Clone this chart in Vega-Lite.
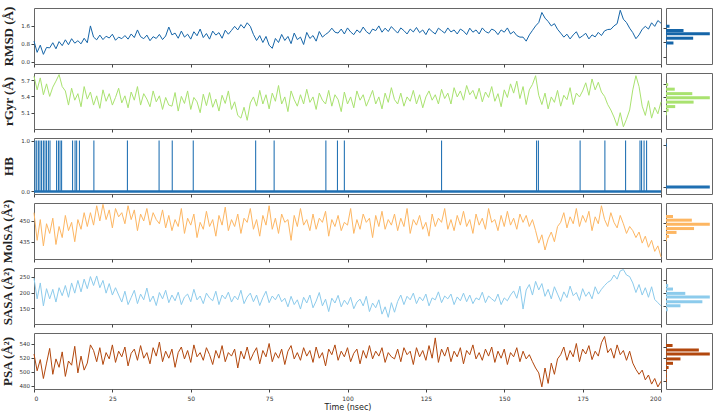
{
 "$schema": "https://vega.github.io/schema/vega-lite/v6.json",
 "padding": {"left": 0, "top": 5, "right": 5, "bottom": 2},
 "background": "white",
 "columns": 2,
 "spacing": {"row": 9, "column": 5},
 "bounds": "flush",
 "datasets": {
  "ts": [
{"t":0,"rmsd":0.92,"rgyr":5.77,"molsa":456,"sasa":245,"psa":525},
{"t":1,"rmsd":0.42,"rgyr":5.52,"molsa":436,"sasa":180,"psa":501},
{"t":2,"rmsd":0.74,"rgyr":5.74,"molsa":451,"sasa":230,"psa":517},
{"t":3,"rmsd":0.33,"rgyr":5.43,"molsa":432,"sasa":158,"psa":490},
{"t":4,"rmsd":0.64,"rgyr":5.63,"molsa":448,"sasa":212,"psa":512},
{"t":5,"rmsd":0.62,"rgyr":5.4,"molsa":441,"sasa":180,"psa":533},
{"t":6,"rmsd":0.85,"rgyr":5.57,"molsa":452,"sasa":210,"psa":496},
{"t":7,"rmsd":0.58,"rgyr":5.68,"molsa":433,"sasa":170,"psa":518},
{"t":8,"rmsd":0.9,"rgyr":5.8,"molsa":446,"sasa":215,"psa":506},
{"t":9,"rmsd":0.72,"rgyr":5.58,"molsa":438,"sasa":190,"psa":528},
{"t":10,"rmsd":0.98,"rgyr":5.5,"molsa":454,"sasa":222,"psa":493},
{"t":11,"rmsd":0.76,"rgyr":5.24,"molsa":443,"sasa":185,"psa":515},
{"t":12,"rmsd":1.03,"rgyr":5.55,"molsa":449,"sasa":230,"psa":509},
{"t":13,"rmsd":0.83,"rgyr":5.33,"molsa":435,"sasa":198,"psa":536},
{"t":14,"rmsd":0.94,"rgyr":5.45,"molsa":451,"sasa":238,"psa":498},
{"t":15,"rmsd":0.8,"rgyr":5.21,"molsa":444,"sasa":202,"psa":522},
{"t":16,"rmsd":1.05,"rgyr":5.58,"molsa":456,"sasa":242,"psa":502},
{"t":17,"rmsd":0.85,"rgyr":5.35,"molsa":446,"sasa":212,"psa":512},
{"t":18,"rmsd":1.6,"rgyr":5.48,"molsa":456,"sasa":250,"psa":538},
{"t":19,"rmsd":1.1,"rgyr":5.24,"molsa":447,"sasa":222,"psa":530},
{"t":20,"rmsd":0.98,"rgyr":5.41,"molsa":461,"sasa":252,"psa":514},
{"t":21,"rmsd":1.19,"rgyr":5.18,"molsa":450,"sasa":215,"psa":534},
{"t":22,"rmsd":0.99,"rgyr":5.52,"molsa":462,"sasa":238,"psa":510},
{"t":23,"rmsd":1.14,"rgyr":5.31,"molsa":451,"sasa":198,"psa":527},
{"t":24,"rmsd":1.06,"rgyr":5.45,"molsa":458,"sasa":228,"psa":518},
{"t":25,"rmsd":1.23,"rgyr":5.24,"molsa":445,"sasa":192,"psa":538},
{"t":26,"rmsd":0.96,"rgyr":5.38,"molsa":459,"sasa":215,"psa":513},
{"t":27,"rmsd":1.1,"rgyr":5.55,"molsa":453,"sasa":192,"psa":529},
{"t":28,"rmsd":1.03,"rgyr":5.28,"molsa":456,"sasa":170,"psa":521},
{"t":29,"rmsd":1.17,"rgyr":5.41,"molsa":448,"sasa":204,"psa":535},
{"t":30,"rmsd":1.01,"rgyr":5.19,"molsa":461,"sasa":162,"psa":508},
{"t":31,"rmsd":1.24,"rgyr":5.48,"molsa":451,"sasa":184,"psa":526},
{"t":32,"rmsd":1.08,"rgyr":5.33,"molsa":458,"sasa":207,"psa":532},
{"t":33,"rmsd":1.42,"rgyr":5.58,"molsa":443,"sasa":165,"psa":516},
{"t":34,"rmsd":1.12,"rgyr":5.24,"molsa":455,"sasa":195,"psa":537},
{"t":35,"rmsd":1.03,"rgyr":5.45,"molsa":450,"sasa":177,"psa":519},
{"t":36,"rmsd":1.19,"rgyr":5.35,"molsa":459,"sasa":214,"psa":527},
{"t":37,"rmsd":0.94,"rgyr":5.21,"molsa":447,"sasa":171,"psa":511},
{"t":38,"rmsd":1.12,"rgyr":5.5,"molsa":456,"sasa":189,"psa":534},
{"t":39,"rmsd":1.04,"rgyr":5.3,"molsa":451,"sasa":159,"psa":522},
{"t":40,"rmsd":1.22,"rgyr":5.41,"molsa":448,"sasa":200,"psa":542},
{"t":41,"rmsd":0.99,"rgyr":5.16,"molsa":458,"sasa":180,"psa":514},
{"t":42,"rmsd":1.15,"rgyr":5.38,"molsa":445,"sasa":207,"psa":529},
{"t":43,"rmsd":1.55,"rgyr":5.24,"molsa":454,"sasa":168,"psa":519},
{"t":44,"rmsd":1.2,"rgyr":5.22,"molsa":443,"sasa":192,"psa":532},
{"t":45,"rmsd":1.28,"rgyr":5.47,"molsa":451,"sasa":174,"psa":506},
{"t":46,"rmsd":1.05,"rgyr":5.13,"molsa":446,"sasa":201,"psa":527},
{"t":47,"rmsd":1.37,"rgyr":5.4,"molsa":459,"sasa":162,"psa":535},
{"t":48,"rmsd":1.1,"rgyr":5.27,"molsa":441,"sasa":186,"psa":518},
{"t":49,"rmsd":1.23,"rgyr":5.5,"molsa":452,"sasa":195,"psa":530},
{"t":50,"rmsd":1.01,"rgyr":5.16,"molsa":447,"sasa":171,"psa":513},
{"t":51,"rmsd":1.34,"rgyr":5.38,"molsa":455,"sasa":210,"psa":538},
{"t":52,"rmsd":1.16,"rgyr":5.3,"molsa":438,"sasa":177,"psa":521},
{"t":53,"rmsd":1.46,"rgyr":5.1,"molsa":449,"sasa":189,"psa":527},
{"t":54,"rmsd":1.08,"rgyr":5.44,"molsa":444,"sasa":165,"psa":516},
{"t":55,"rmsd":1.26,"rgyr":5.23,"molsa":457,"sasa":198,"psa":534},
{"t":56,"rmsd":1.01,"rgyr":5.47,"molsa":446,"sasa":183,"psa":524},
{"t":57,"rmsd":1.37,"rgyr":5.2,"molsa":451,"sasa":174,"psa":510},
{"t":58,"rmsd":1.19,"rgyr":5.35,"molsa":439,"sasa":204,"psa":530},
{"t":59,"rmsd":1.3,"rgyr":5.13,"molsa":454,"sasa":162,"psa":519},
{"t":60,"rmsd":1.05,"rgyr":5.42,"molsa":447,"sasa":192,"psa":537},
{"t":61,"rmsd":1.41,"rgyr":5.27,"molsa":460,"sasa":180,"psa":514},
{"t":62,"rmsd":1.23,"rgyr":5.5,"molsa":443,"sasa":201,"psa":527},
{"t":63,"rmsd":1.4,"rgyr":5.16,"molsa":451,"sasa":170,"psa":522},
{"t":64,"rmsd":1.58,"rgyr":5.3,"molsa":446,"sasa":189,"psa":532},
{"t":65,"rmsd":1.42,"rgyr":5.05,"molsa":455,"sasa":177,"psa":505},
{"t":66,"rmsd":1.66,"rgyr":5.0,"molsa":441,"sasa":207,"psa":529},
{"t":67,"rmsd":1.5,"rgyr":5.2,"molsa":452,"sasa":165,"psa":518},
{"t":68,"rmsd":1.74,"rgyr":4.96,"molsa":449,"sasa":186,"psa":535},
{"t":69,"rmsd":1.58,"rgyr":5.28,"molsa":459,"sasa":198,"psa":516},
{"t":70,"rmsd":1.22,"rgyr":5.39,"molsa":444,"sasa":171,"psa":526},
{"t":71,"rmsd":0.95,"rgyr":5.22,"molsa":451,"sasa":192,"psa":534},
{"t":72,"rmsd":1.17,"rgyr":5.51,"molsa":439,"sasa":159,"psa":511},
{"t":73,"rmsd":0.86,"rgyr":5.26,"molsa":454,"sasa":184,"psa":530},
{"t":74,"rmsd":1.13,"rgyr":5.43,"molsa":447,"sasa":204,"psa":521},
{"t":75,"rmsd":0.74,"rgyr":5.17,"molsa":461,"sasa":168,"psa":540},
{"t":76,"rmsd":0.6,"rgyr":5.46,"molsa":444,"sasa":189,"psa":514},
{"t":77,"rmsd":1.04,"rgyr":5.31,"molsa":452,"sasa":177,"psa":527},
{"t":78,"rmsd":0.86,"rgyr":5.6,"molsa":441,"sasa":195,"psa":519},
{"t":79,"rmsd":1.22,"rgyr":5.26,"molsa":455,"sasa":171,"psa":532},
{"t":80,"rmsd":0.95,"rgyr":5.39,"molsa":449,"sasa":182,"psa":510},
{"t":81,"rmsd":1.13,"rgyr":5.12,"molsa":451,"sasa":155,"psa":529},
{"t":82,"rmsd":0.81,"rgyr":5.5,"molsa":436,"sasa":188,"psa":537},
{"t":83,"rmsd":1.28,"rgyr":5.34,"molsa":454,"sasa":162,"psa":518},
{"t":84,"rmsd":0.99,"rgyr":5.22,"molsa":446,"sasa":177,"psa":527},
{"t":85,"rmsd":1.1,"rgyr":5.43,"molsa":459,"sasa":148,"psa":516},
{"t":86,"rmsd":0.77,"rgyr":5.26,"molsa":447,"sasa":185,"psa":534},
{"t":87,"rmsd":1.31,"rgyr":5.53,"molsa":451,"sasa":167,"psa":522},
{"t":88,"rmsd":1.04,"rgyr":5.29,"molsa":443,"sasa":192,"psa":530},
{"t":89,"rmsd":1.17,"rgyr":5.39,"molsa":455,"sasa":152,"psa":513},
{"t":90,"rmsd":0.92,"rgyr":5.16,"molsa":444,"sasa":173,"psa":535},
{"t":91,"rmsd":1.35,"rgyr":5.46,"molsa":452,"sasa":200,"psa":519},
{"t":92,"rmsd":1.1,"rgyr":5.33,"molsa":449,"sasa":158,"psa":527},
{"t":93,"rmsd":1.22,"rgyr":5.26,"molsa":457,"sasa":179,"psa":508},
{"t":94,"rmsd":1.32,"rgyr":5.51,"molsa":439,"sasa":140,"psa":532},
{"t":95,"rmsd":1.5,"rgyr":5.22,"molsa":451,"sasa":182,"psa":524},
{"t":96,"rmsd":1.32,"rgyr":5.43,"molsa":446,"sasa":167,"psa":538},
{"t":97,"rmsd":1.28,"rgyr":5.34,"molsa":454,"sasa":191,"psa":516},
{"t":98,"rmsd":1.46,"rgyr":5.12,"molsa":443,"sasa":155,"psa":529},
{"t":99,"rmsd":1.24,"rgyr":5.48,"molsa":449,"sasa":176,"psa":521},
{"t":100,"rmsd":1.51,"rgyr":5.26,"molsa":447,"sasa":162,"psa":534},
{"t":101,"rmsd":1.33,"rgyr":5.39,"molsa":459,"sasa":185,"psa":514},
{"t":102,"rmsd":1.21,"rgyr":5.19,"molsa":441,"sasa":149,"psa":526},
{"t":103,"rmsd":1.42,"rgyr":5.5,"molsa":451,"sasa":170,"psa":532},
{"t":104,"rmsd":1.3,"rgyr":5.33,"molsa":444,"sasa":179,"psa":511},
{"t":105,"rmsd":1.55,"rgyr":5.43,"molsa":455,"sasa":158,"psa":530},
{"t":106,"rmsd":1.35,"rgyr":5.22,"molsa":449,"sasa":188,"psa":519},
{"t":107,"rmsd":1.24,"rgyr":5.36,"molsa":452,"sasa":140,"psa":537},
{"t":108,"rmsd":1.46,"rgyr":5.51,"molsa":438,"sasa":167,"psa":518},
{"t":109,"rmsd":1.39,"rgyr":5.26,"molsa":454,"sasa":152,"psa":529},
{"t":110,"rmsd":1.6,"rgyr":5.39,"molsa":446,"sasa":177,"psa":522},
{"t":111,"rmsd":1.32,"rgyr":5.17,"molsa":457,"sasa":132,"psa":534},
{"t":112,"rmsd":1.5,"rgyr":5.46,"molsa":444,"sasa":155,"psa":513},
{"t":113,"rmsd":1.35,"rgyr":5.29,"molsa":451,"sasa":122,"psa":527},
{"t":114,"rmsd":1.57,"rgyr":5.56,"molsa":447,"sasa":168,"psa":521},
{"t":115,"rmsd":1.42,"rgyr":5.34,"molsa":455,"sasa":138,"psa":518},
{"t":116,"rmsd":1.28,"rgyr":5.26,"molsa":443,"sasa":172,"psa":532},
{"t":117,"rmsd":1.51,"rgyr":5.46,"molsa":452,"sasa":192,"psa":514},
{"t":118,"rmsd":1.39,"rgyr":5.22,"molsa":446,"sasa":162,"psa":534},
{"t":119,"rmsd":1.24,"rgyr":5.39,"molsa":459,"sasa":188,"psa":524},
{"t":120,"rmsd":1.46,"rgyr":5.31,"molsa":441,"sasa":177,"psa":529},
{"t":121,"rmsd":1.33,"rgyr":5.51,"molsa":451,"sasa":198,"psa":510},
{"t":122,"rmsd":1.53,"rgyr":5.26,"molsa":447,"sasa":165,"psa":534},
{"t":123,"rmsd":1.3,"rgyr":5.43,"molsa":454,"sasa":186,"psa":521},
{"t":124,"rmsd":1.42,"rgyr":5.19,"molsa":444,"sasa":174,"psa":530},
{"t":125,"rmsd":1.21,"rgyr":5.39,"molsa":449,"sasa":195,"psa":516},
{"t":126,"rmsd":1.48,"rgyr":5.5,"molsa":439,"sasa":158,"psa":537},
{"t":127,"rmsd":1.35,"rgyr":5.33,"molsa":455,"sasa":183,"psa":519},
{"t":128,"rmsd":1.24,"rgyr":5.43,"molsa":446,"sasa":177,"psa":548},
{"t":129,"rmsd":1.5,"rgyr":5.26,"molsa":452,"sasa":202,"psa":513},
{"t":130,"rmsd":1.39,"rgyr":5.53,"molsa":449,"sasa":168,"psa":532},
{"t":131,"rmsd":1.28,"rgyr":5.36,"molsa":459,"sasa":189,"psa":522},
{"t":132,"rmsd":1.51,"rgyr":5.46,"molsa":444,"sasa":180,"psa":535},
{"t":133,"rmsd":1.33,"rgyr":5.26,"molsa":451,"sasa":195,"psa":514},
{"t":134,"rmsd":1.42,"rgyr":5.56,"molsa":443,"sasa":162,"psa":529},
{"t":135,"rmsd":1.24,"rgyr":5.39,"molsa":454,"sasa":186,"psa":521},
{"t":136,"rmsd":1.46,"rgyr":5.5,"molsa":447,"sasa":174,"psa":534},
{"t":137,"rmsd":1.37,"rgyr":5.33,"molsa":457,"sasa":198,"psa":511},
{"t":138,"rmsd":1.21,"rgyr":5.6,"molsa":446,"sasa":171,"psa":530},
{"t":139,"rmsd":1.5,"rgyr":5.43,"molsa":451,"sasa":192,"psa":524},
{"t":140,"rmsd":1.32,"rgyr":5.51,"molsa":441,"sasa":165,"psa":538},
{"t":141,"rmsd":1.42,"rgyr":5.35,"molsa":455,"sasa":183,"psa":518},
{"t":142,"rmsd":1.24,"rgyr":5.55,"molsa":447,"sasa":177,"psa":527},
{"t":143,"rmsd":1.51,"rgyr":5.3,"molsa":452,"sasa":201,"psa":516},
{"t":144,"rmsd":1.35,"rgyr":5.48,"molsa":444,"sasa":168,"psa":532},
{"t":145,"rmsd":1.28,"rgyr":5.38,"molsa":459,"sasa":189,"psa":522},
{"t":146,"rmsd":1.46,"rgyr":5.58,"molsa":449,"sasa":180,"psa":535},
{"t":147,"rmsd":1.39,"rgyr":5.31,"molsa":451,"sasa":172,"psa":513},
{"t":148,"rmsd":1.21,"rgyr":5.45,"molsa":443,"sasa":195,"psa":529},
{"t":149,"rmsd":1.42,"rgyr":5.21,"molsa":454,"sasa":162,"psa":519},
{"t":150,"rmsd":1.32,"rgyr":5.52,"molsa":446,"sasa":183,"psa":532},
{"t":151,"rmsd":1.51,"rgyr":5.38,"molsa":457,"sasa":174,"psa":510},
{"t":152,"rmsd":1.24,"rgyr":5.63,"molsa":447,"sasa":192,"psa":527},
{"t":153,"rmsd":1.35,"rgyr":5.46,"molsa":452,"sasa":205,"psa":521},
{"t":154,"rmsd":1.17,"rgyr":5.68,"molsa":444,"sasa":182,"psa":534},
{"t":155,"rmsd":1.1,"rgyr":5.36,"molsa":455,"sasa":220,"psa":514},
{"t":156,"rmsd":1.1,"rgyr":5.58,"molsa":449,"sasa":148,"psa":529},
{"t":157,"rmsd":0.92,"rgyr":5.25,"molsa":454,"sasa":208,"psa":518},
{"t":158,"rmsd":1.2,"rgyr":5.52,"molsa":446,"sasa":225,"psa":524},
{"t":159,"rmsd":1.4,"rgyr":5.62,"molsa":451,"sasa":192,"psa":514},
{"t":160,"rmsd":1.6,"rgyr":5.78,"molsa":443,"sasa":235,"psa":505},
{"t":161,"rmsd":1.75,"rgyr":5.42,"molsa":434,"sasa":208,"psa":498},
{"t":162,"rmsd":2.2,"rgyr":5.25,"molsa":440,"sasa":228,"psa":478},
{"t":163,"rmsd":1.95,"rgyr":5.46,"molsa":429,"sasa":188,"psa":505},
{"t":164,"rmsd":1.8,"rgyr":5.17,"molsa":437,"sasa":210,"psa":483},
{"t":165,"rmsd":1.6,"rgyr":5.39,"molsa":442,"sasa":180,"psa":512},
{"t":166,"rmsd":1.7,"rgyr":5.29,"molsa":435,"sasa":218,"psa":496},
{"t":167,"rmsd":1.45,"rgyr":5.51,"molsa":446,"sasa":195,"psa":518},
{"t":168,"rmsd":1.28,"rgyr":5.22,"molsa":449,"sasa":172,"psa":524},
{"t":169,"rmsd":1.1,"rgyr":5.42,"molsa":456,"sasa":202,"psa":535},
{"t":170,"rmsd":1.23,"rgyr":5.34,"molsa":445,"sasa":184,"psa":516},
{"t":171,"rmsd":1.02,"rgyr":5.56,"molsa":453,"sasa":220,"psa":530},
{"t":172,"rmsd":1.2,"rgyr":5.25,"molsa":448,"sasa":190,"psa":521},
{"t":173,"rmsd":1.34,"rgyr":5.46,"molsa":459,"sasa":200,"psa":540},
{"t":174,"rmsd":1.06,"rgyr":5.39,"molsa":446,"sasa":175,"psa":514},
{"t":175,"rmsd":1.16,"rgyr":5.5,"molsa":454,"sasa":212,"psa":532},
{"t":176,"rmsd":1.27,"rgyr":5.65,"molsa":449,"sasa":188,"psa":525},
{"t":177,"rmsd":1.02,"rgyr":5.42,"molsa":457,"sasa":202,"psa":537},
{"t":178,"rmsd":1.2,"rgyr":5.72,"molsa":443,"sasa":180,"psa":517},
{"t":179,"rmsd":1.11,"rgyr":5.52,"molsa":453,"sasa":218,"psa":529},
{"t":180,"rmsd":1.31,"rgyr":5.66,"molsa":448,"sasa":195,"psa":522},
{"t":181,"rmsd":1.17,"rgyr":5.48,"molsa":461,"sasa":210,"psa":541},
{"t":182,"rmsd":1.38,"rgyr":5.4,"molsa":451,"sasa":222,"psa":550},
{"t":183,"rmsd":1.44,"rgyr":5.25,"molsa":446,"sasa":232,"psa":527},
{"t":184,"rmsd":1.45,"rgyr":5.15,"molsa":456,"sasa":238,"psa":533},
{"t":185,"rmsd":1.6,"rgyr":5.02,"molsa":449,"sasa":255,"psa":519},
{"t":186,"rmsd":1.7,"rgyr":4.86,"molsa":445,"sasa":242,"psa":538},
{"t":187,"rmsd":2.3,"rgyr":5.1,"molsa":454,"sasa":268,"psa":524},
{"t":188,"rmsd":1.9,"rgyr":4.84,"molsa":448,"sasa":272,"psa":530},
{"t":189,"rmsd":1.75,"rgyr":4.98,"molsa":441,"sasa":255,"psa":516},
{"t":190,"rmsd":1.5,"rgyr":5.15,"molsa":446,"sasa":250,"psa":529},
{"t":191,"rmsd":1.3,"rgyr":5.52,"molsa":443,"sasa":230,"psa":512},
{"t":192,"rmsd":1.03,"rgyr":5.78,"molsa":438,"sasa":200,"psa":503},
{"t":193,"rmsd":1.2,"rgyr":5.58,"molsa":442,"sasa":225,"psa":496},
{"t":194,"rmsd":1.45,"rgyr":5.22,"molsa":434,"sasa":192,"psa":502},
{"t":195,"rmsd":1.58,"rgyr":5.05,"molsa":439,"sasa":215,"psa":488},
{"t":196,"rmsd":1.46,"rgyr":5.32,"molsa":431,"sasa":185,"psa":495},
{"t":197,"rmsd":1.74,"rgyr":5.0,"molsa":436,"sasa":218,"psa":482},
{"t":198,"rmsd":1.58,"rgyr":5.2,"molsa":428,"sasa":178,"psa":490},
{"t":199,"rmsd":1.84,"rgyr":5.08,"molsa":432,"sasa":168,"psa":478},
{"t":200,"rmsd":1.72,"rgyr":5.3,"molsa":424,"sasa":158,"psa":486}
  ],
  "hbspikes": [
{"t":0.3},{"t":0.85},{"t":1.4},{"t":1.9},{"t":2.4},{"t":3.0},{"t":3.5},{"t":4.0},{"t":4.6},{"t":5.1},
{"t":7.2},{"t":7.8},{"t":8.3},{"t":8.8},{"t":12.3},{"t":13.1},{"t":13.6},{"t":14.5},{"t":19.1},{"t":29.8},
{"t":39.9},{"t":44.1},{"t":50.8},{"t":70.7},{"t":76.6},{"t":93.1},{"t":96.8},{"t":99.0},{"t":130.0},{"t":160.3},
{"t":160.9},{"t":174.2},{"t":182.1},{"t":188.7},{"t":193.3},{"t":193.8},{"t":194.6},{"t":195.4}
  ],
  "hist": [
{"m":"rmsd","v":1.68,"n":8},{"m":"rmsd","v":1.45,"n":40},{"m":"rmsd","v":1.27,"n":100},{"m":"rmsd","v":1.03,"n":62},{"m":"rmsd","v":0.77,"n":17},{"m":"rmsd","v":0.59,"n":2},
{"m":"rgyr","v":5.68,"n":5},{"m":"rgyr","v":5.58,"n":20},{"m":"rgyr","v":5.48,"n":60},{"m":"rgyr","v":5.39,"n":100},{"m":"rgyr","v":5.29,"n":63},{"m":"rgyr","v":5.19,"n":21},{"m":"rgyr","v":5.11,"n":6},{"m":"rgyr","v":5.03,"n":2},
{"m":"hb","v":0,"n":100},{"m":"hb","v":1,"n":2},
{"m":"molsa","v":455.5,"n":16},{"m":"molsa","v":452.3,"n":59},{"m":"molsa","v":448.8,"n":100},{"m":"molsa","v":444.9,"n":64},{"m":"molsa","v":441.5,"n":24},{"m":"molsa","v":438,"n":7},{"m":"molsa","v":435,"n":2},
{"m":"sasa","v":229,"n":5},{"m":"sasa","v":215.6,"n":16},{"m":"sasa","v":199,"n":44},{"m":"sasa","v":185,"n":100},{"m":"sasa","v":167,"n":83},{"m":"sasa","v":151.6,"n":33},{"m":"sasa","v":136,"n":4},
{"m":"psa","v":542,"n":15},{"m":"psa","v":534,"n":75},{"m":"psa","v":527,"n":100},{"m":"psa","v":518.6,"n":33},{"m":"psa","v":511,"n":16},{"m":"psa","v":503.7,"n":6},{"m":"psa","v":497,"n":2},{"m":"psa","v":489,"n":2},{"m":"psa","v":481,"n":2}
  ]
 },
 "concat": [
  {"width": 627, "height": 56, "data": {"name": "ts"},
   "mark": {"type": "line", "color": "#1565a8", "strokeWidth": 1},
   "encoding": {
    "x": {"field": "t", "type": "quantitative", "scale": {"domain": [0, 200], "nice": false}, "axis": {"values": [0,25,50,75,100,125,150,175,200], "labels": false, "title": null}},
    "y": {"field": "rmsd", "type": "quantitative", "scale": {"domain": [-0.1, 2.4], "nice": false, "zero": false}, "axis": {"values": [0, 0.8, 1.6], "format": ".1f", "title": "RMSD (Å)"}}}},
  {"width": 46, "height": 56, "data": {"name": "hist"}, "transform": [{"filter": "datum.m == 'rmsd'"}],
   "mark": {"type": "bar", "orient": "horizontal", "size": 3, "color": "#1565a8"},
   "encoding": {
    "x": {"field": "n", "type": "quantitative", "scale": {"domain": [0, 105], "nice": false}, "axis": null},
    "y": {"field": "v", "type": "quantitative", "scale": {"domain": [-0.1, 2.4], "nice": false, "zero": false}, "axis": {"values": [0, 0.8, 1.6], "labels": false, "title": null}}}},

  {"width": 627, "height": 56, "data": {"name": "ts"},
   "mark": {"type": "line", "color": "#a9e26f", "strokeWidth": 1},
   "encoding": {
    "x": {"field": "t", "type": "quantitative", "scale": {"domain": [0, 200], "nice": false}, "axis": {"values": [0,25,50,75,100,125,150,175,200], "labels": false, "title": null}},
    "y": {"field": "rgyr", "type": "quantitative", "scale": {"domain": [4.8, 5.83], "nice": false, "zero": false}, "axis": {"values": [5.1, 5.4, 5.7], "format": ".1f", "title": "rGyr (Å)"}}}},
  {"width": 46, "height": 56, "data": {"name": "hist"}, "transform": [{"filter": "datum.m == 'rgyr'"}],
   "mark": {"type": "bar", "orient": "horizontal", "size": 3, "color": "#a9e26f"},
   "encoding": {
    "x": {"field": "n", "type": "quantitative", "scale": {"domain": [0, 105], "nice": false}, "axis": null},
    "y": {"field": "v", "type": "quantitative", "scale": {"domain": [4.8, 5.83], "nice": false, "zero": false}, "axis": {"values": [5.1, 5.4, 5.7], "labels": false, "title": null}}}},

  {"width": 627, "height": 56,
   "layer": [
    {"data": {"name": "ts"},
     "mark": {"type": "rule", "color": "#1f6fb2", "strokeWidth": 2.5},
     "encoding": {
      "x": {"aggregate": "min", "field": "t", "type": "quantitative", "scale": {"domain": [0, 200], "nice": false}, "axis": {"values": [0,25,50,75,100,125,150,175,200], "labels": false, "title": null}},
      "x2": {"aggregate": "max", "field": "t"},
      "y": {"datum": 0, "type": "quantitative", "scale": {"domain": [-0.05, 1.05], "nice": false, "zero": false}, "axis": {"values": [0, 1], "title": "HB"}}}},
    {"data": {"name": "hbspikes"},
     "mark": {"type": "rule", "color": "#2674b5", "strokeWidth": 1.1},
     "encoding": {
      "x": {"field": "t", "type": "quantitative"},
      "y": {"datum": 0, "type": "quantitative"},
      "y2": {"datum": 1}}}
   ]},
  {"width": 46, "height": 56, "data": {"name": "hist"}, "transform": [{"filter": "datum.m == 'hb'"}],
   "mark": {"type": "bar", "orient": "horizontal", "size": 3, "color": "#1f6fb2"},
   "encoding": {
    "x": {"field": "n", "type": "quantitative", "scale": {"domain": [0, 105], "nice": false}, "axis": null},
    "y": {"field": "v", "type": "quantitative", "scale": {"domain": [-0.05, 1.05], "nice": false, "zero": false}, "axis": {"values": [0, 1], "labels": false, "title": null}}}},

  {"width": 627, "height": 56, "data": {"name": "ts"},
   "mark": {"type": "line", "color": "#fdb662", "strokeWidth": 1},
   "encoding": {
    "x": {"field": "t", "type": "quantitative", "scale": {"domain": [0, 200], "nice": false}, "axis": {"values": [0,25,50,75,100,125,150,175,200], "labels": false, "title": null}},
    "y": {"field": "molsa", "type": "quantitative", "scale": {"domain": [422.5, 463], "nice": false, "zero": false}, "axis": {"values": [435, 450], "title": "MolSA (Å²)"}}}},
  {"width": 46, "height": 56, "data": {"name": "hist"}, "transform": [{"filter": "datum.m == 'molsa'"}],
   "mark": {"type": "bar", "orient": "horizontal", "size": 3, "color": "#fdb662"},
   "encoding": {
    "x": {"field": "n", "type": "quantitative", "scale": {"domain": [0, 105], "nice": false}, "axis": null},
    "y": {"field": "v", "type": "quantitative", "scale": {"domain": [422.5, 463], "nice": false, "zero": false}, "axis": {"values": [435, 450], "labels": false, "title": null}}}},

  {"width": 627, "height": 56, "data": {"name": "ts"},
   "mark": {"type": "line", "color": "#8ccbec", "strokeWidth": 1},
   "encoding": {
    "x": {"field": "t", "type": "quantitative", "scale": {"domain": [0, 200], "nice": false}, "axis": {"values": [0,25,50,75,100,125,150,175,200], "labels": false, "title": null}},
    "y": {"field": "sasa", "type": "quantitative", "scale": {"domain": [101, 277], "nice": false, "zero": false}, "axis": {"values": [150, 200, 250], "title": "SASA (Å²)"}}}},
  {"width": 46, "height": 56, "data": {"name": "hist"}, "transform": [{"filter": "datum.m == 'sasa'"}],
   "mark": {"type": "bar", "orient": "horizontal", "size": 3, "color": "#8ccbec"},
   "encoding": {
    "x": {"field": "n", "type": "quantitative", "scale": {"domain": [0, 105], "nice": false}, "axis": null},
    "y": {"field": "v", "type": "quantitative", "scale": {"domain": [101, 277], "nice": false, "zero": false}, "axis": {"values": [150, 200, 250], "labels": false, "title": null}}}},

  {"width": 627, "height": 56, "data": {"name": "ts"},
   "mark": {"type": "line", "color": "#b2470d", "strokeWidth": 1},
   "encoding": {
    "x": {"field": "t", "type": "quantitative", "scale": {"domain": [0, 200], "nice": false}, "axis": {"values": [0,25,50,75,100,125,150,175,200], "title": "Time (nsec)", "titleFont": "DejaVu Sans", "titleFontWeight": "normal", "titleFontSize": 8, "titlePadding": 2, "labelFontSize": 6, "labelPadding": 3}},
    "y": {"field": "psa", "type": "quantitative", "scale": {"domain": [475, 555], "nice": false, "zero": false}, "axis": {"values": [480, 500, 520, 540], "title": "PSA (Å²)"}}}},
  {"width": 46, "height": 56, "data": {"name": "hist"}, "transform": [{"filter": "datum.m == 'psa'"}],
   "mark": {"type": "bar", "orient": "horizontal", "size": 3, "color": "#b2470d"},
   "encoding": {
    "x": {"field": "n", "type": "quantitative", "scale": {"domain": [0, 105], "nice": false}, "axis": null},
    "y": {"field": "v", "type": "quantitative", "scale": {"domain": [475, 555], "nice": false, "zero": false}, "axis": {"values": [480, 500, 520, 540], "labels": false, "title": null}}}}
 ],
 "config": {
  "view": {"stroke": "#666", "strokeWidth": 1},
  "axis": {"grid": false, "domain": false, "tickSize": 3, "tickColor": "#444", "labelFontSize": 5.5, "labelColor": "#333", "labelFont": "DejaVu Sans", "labelPadding": 1.5,
           "titleFont": "Liberation Serif", "titleFontSize": 13, "titleFontWeight": "bold", "titleColor": "#222", "titlePadding": 5}
 }
}
